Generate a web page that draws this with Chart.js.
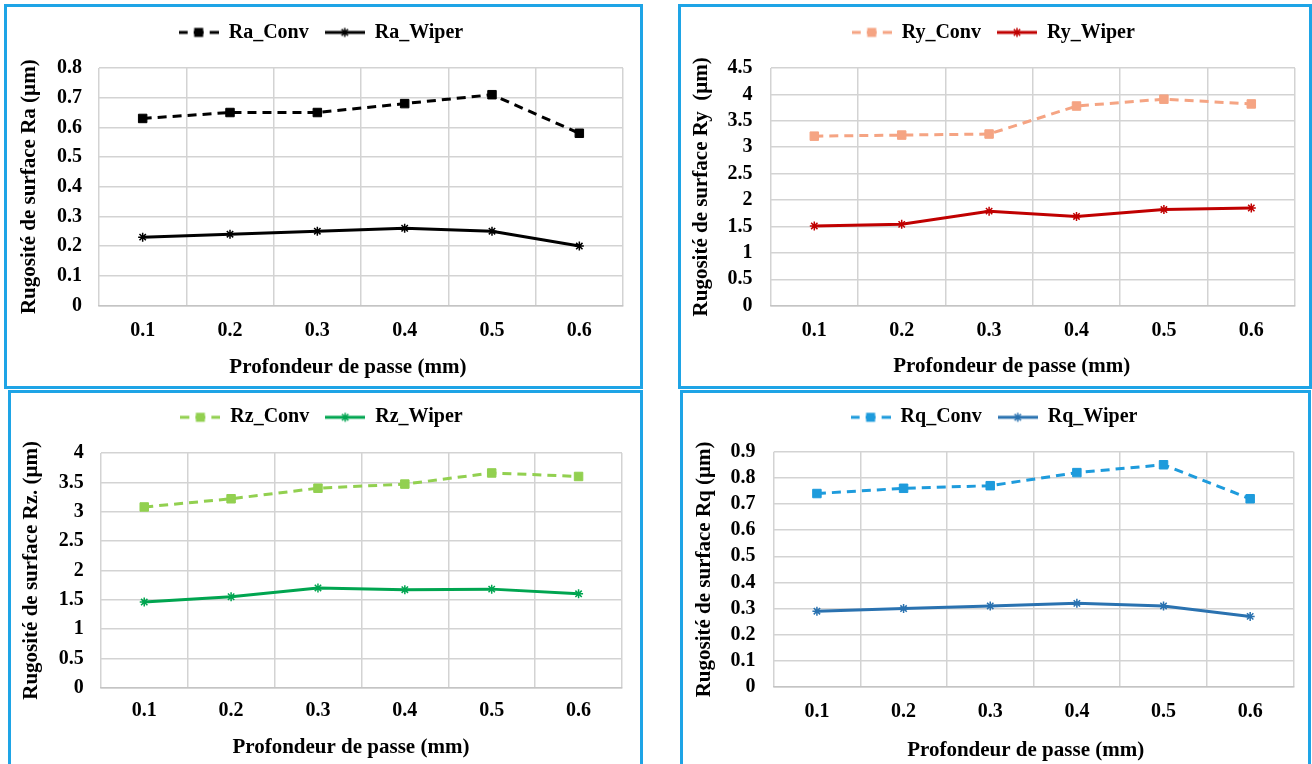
<!DOCTYPE html>
<html>
<head>
<meta charset="utf-8">
<script src="https://cdn.jsdelivr.net/npm/chart.js@4.4.1/dist/chart.umd.min.js"></script>
<style>
html,body{margin:0;padding:0;background:#fff;width:1312px;height:764px;overflow:hidden;position:relative}
canvas{position:absolute}
.frame{position:absolute;border:3px solid #1EA4E6;box-sizing:border-box;pointer-events:none;z-index:5}
</style>
</head>
<body>
<script>
// ---------- data ----------
const depthLabels = ['0.1', '0.2', '0.3', '0.4', '0.5', '0.6'];

const raConv  = [0.63, 0.65, 0.65, 0.68, 0.71, 0.58];
const raWiper = [0.23, 0.24, 0.25, 0.26, 0.25, 0.20];

const ryConv  = [3.21, 3.23, 3.25, 3.78, 3.91, 3.82];
const ryWiper = [1.51, 1.54, 1.79, 1.69, 1.82, 1.85];

const rzConv  = [3.08, 3.22, 3.40, 3.47, 3.66, 3.60];
const rzWiper = [1.46, 1.55, 1.70, 1.67, 1.68, 1.60];

const rqConv  = [0.74, 0.76, 0.77, 0.82, 0.85, 0.72];
const rqWiper = [0.29, 0.30, 0.31, 0.32, 0.31, 0.27];

const raTicks = [0, 0.1, 0.2, 0.3, 0.4, 0.5, 0.6, 0.7, 0.8];
const ryTicks = [0, 0.5, 1, 1.5, 2, 2.5, 3, 3.5, 4, 4.5];
const rzTicks = [0, 0.5, 1, 1.5, 2, 2.5, 3, 3.5, 4];
const rqTicks = [0, 0.1, 0.2, 0.3, 0.4, 0.5, 0.6, 0.7, 0.8, 0.9];

const xTitle = 'Profondeur de passe (mm)';

// ---------- styling / layout ----------
Chart.defaults.font.family = "'Liberation Serif', 'Times New Roman', serif";
Chart.defaults.font.weight = 'bold';
Chart.defaults.font.size = 20;
Chart.defaults.color = '#000';

const gridColor = '#d3d3d3';

function makeIcon(color, dashed, style) {
  const c = document.createElement('canvas');
  c.width = 40; c.height = 16;
  const g = c.getContext('2d');
  g.strokeStyle = color; g.fillStyle = color; g.lineWidth = 3;
  g.beginPath();
  if (dashed) {
    g.moveTo(0, 8); g.lineTo(9, 8);
    g.moveTo(15, 8); g.lineTo(25, 8);
    g.moveTo(31, 8); g.lineTo(40, 8);
  } else {
    g.moveTo(0, 8); g.lineTo(40, 8);
  }
  g.stroke();
  if (style === 'rect') {
    g.fillRect(15.5, 3.5, 9, 9);
  } else {
    g.lineWidth = 1.5;
    const r = 4.5;
    g.beginPath();
    g.moveTo(20 - r, 8); g.lineTo(20 + r, 8);
    g.moveTo(20, 8 - r); g.lineTo(20, 8 + r);
    const d = r * Math.SQRT1_2;
    g.moveTo(20 - d, 8 - d); g.lineTo(20 + d, 8 + d);
    g.moveTo(20 - d, 8 + d); g.lineTo(20 + d, 8 - d);
    g.stroke();
  }
  return c;
}

const panels = [
  { canvas: [5, 5, 637, 383], frame: [4, 4, 639, 385],
    pad: {left: 13.9, right: 19, top: 1.4, bottom: 7.4}, yWidth: 80.1, xHeight: 75.2, spacer: 15.6,
    yTickPad: 17, xTickPad: 13.6, xShift: 5,
    names: ['Ra_Conv', 'Ra_Wiper'], conv: raConv, wiper: raWiper, ticks: raTicks,
    colors: ['#000000', '#000000'], yTitle: 'Rugosité de surface Ra (µm)' },
  { canvas: [679, 5, 632, 383], frame: [678, 4, 634, 385],
    pad: {left: 12.5, right: 16, top: 1.4, bottom: 9.2}, yWidth: 79.1, xHeight: 73.1, spacer: 15.6,
    yTickPad: 18, xTickPad: 13.3, xShift: 8,
    names: ['Ry_Conv', 'Ry_Wiper'], conv: ryConv, wiper: ryWiper, ticks: ryTicks,
    colors: ['#F5A483', '#C00000'], yTitle: 'Rugosité de surface Ry  (µm)' },
  { canvas: [9, 391, 633, 373], frame: [8, 390, 635, 380],
    pad: {left: 12, right: 20, top: 0.3, bottom: 3.7}, yWidth: 79.8, xHeight: 72.6, spacer: 15.7,
    yTickPad: 17, xTickPad: 11.3, xShift: 4,
    names: ['Rz_Conv', 'Rz_Wiper'], conv: rzConv, wiper: rzWiper, ticks: rzTicks,
    colors: ['#92D050', '#00A550'], yTitle: 'Rugosité de surface Rz. (µm)' },
  { canvas: [681, 391, 629, 373], frame: [680, 390, 631, 380],
    pad: {left: 13.5, right: 16.5, top: 0.3, bottom: 0.7}, yWidth: 79.1, xHeight: 76.3, spacer: 14.4,
    yTickPad: 18, xTickPad: 12.7, xShift: 3,
    names: ['Rq_Conv', 'Rq_Wiper'], conv: rqConv, wiper: rqWiper, ticks: rqTicks,
    colors: ['#1E9BDC', '#2A72B0'], yTitle: 'Rugosité de surface Rq (µm)' }
];

function buildChart(p) {
  const cv = document.createElement('canvas');
  cv.width = p.canvas[2]; cv.height = p.canvas[3];
  cv.style.left = p.canvas[0] + 'px'; cv.style.top = p.canvas[1] + 'px';
  cv.style.width = p.canvas[2] + 'px'; cv.style.height = p.canvas[3] + 'px';
  document.body.appendChild(cv);

  const fr = document.createElement('div');
  fr.className = 'frame';
  fr.style.left = p.frame[0] + 'px'; fr.style.top = p.frame[1] + 'px';
  fr.style.width = p.frame[2] + 'px'; fr.style.height = p.frame[3] + 'px';
  document.body.appendChild(fr);

  const icons = [makeIcon(p.colors[0], true, 'rect'), makeIcon(p.colors[1], false, 'star')];

  new Chart(cv, {
    type: 'line',
    data: {
      labels: depthLabels,
      datasets: [
        { label: p.names[0], data: p.conv, borderColor: p.colors[0], backgroundColor: p.colors[0],
          borderWidth: 3, borderDash: [9, 6], tension: 0, fill: false,
          pointStyle: 'rect', pointRadius: 6, pointBorderWidth: 1,
          pointBackgroundColor: p.colors[0], pointBorderColor: p.colors[0] },
        { label: p.names[1], data: p.wiper, borderColor: p.colors[1], backgroundColor: p.colors[1],
          borderWidth: 3, tension: 0, fill: false,
          pointStyle: 'star', pointRadius: 4.5, pointBorderWidth: 1.5,
          pointBackgroundColor: p.colors[1], pointBorderColor: p.colors[1] }
      ]
    },
    options: {
      responsive: false,
      animation: false,
      devicePixelRatio: 1,
      layout: { padding: p.pad },
      plugins: {
        legend: {
          position: 'top',
          labels: {
            usePointStyle: true, pointStyleWidth: 40, padding: 16,
            font: { size: 20, weight: 'bold' }, color: '#000',
            generateLabels: (chart) => chart.data.datasets.map((ds, i) => ({
              text: ds.label, pointStyle: icons[i], fillStyle: ds.borderColor,
              strokeStyle: ds.borderColor, lineWidth: 0, hidden: false,
              datasetIndex: i, fontColor: '#000'
            }))
          }
        },
        title: { display: true, text: '', position: 'top', weight: 500,
                 padding: { top: 0, bottom: p.spacer }, font: { size: 1, lineHeight: 0 } },
        tooltip: { enabled: false }
      },
      scales: {
        x: {
          type: 'category', offset: true,
          grid: { offset: true, color: gridColor, lineWidth: 1.5, drawTicks: false },
          border: { display: true, color: '#c4c4c4', width: 1.5 },
          ticks: { padding: p.xTickPad, font: { size: 20, weight: 'bold' }, color: '#000',
                   maxRotation: 0, autoSkip: false },
          title: { display: true, text: xTitle + ' '.repeat(p.xShift), color: '#000',
                   font: { size: 21, weight: 'bold' }, padding: 0 },
          afterFit: (s) => { s.height = p.xHeight; }
        },
        y: {
          min: 0, max: p.ticks[p.ticks.length - 1],
          grid: { color: gridColor, lineWidth: 1.5, drawTicks: false },
          border: { display: false },
          ticks: { padding: p.yTickPad, font: { size: 20, weight: 'bold' }, color: '#000',
                   autoSkip: false, callback: (v) => String(v) },
          afterBuildTicks: (s) => { s.ticks = p.ticks.map(v => ({ value: v })); },
          title: { display: true, text: p.yTitle, color: '#000',
                   font: { size: 21, weight: 'bold', lineHeight: 1 }, padding: 0 },
          afterFit: (s) => { s.width = p.yWidth; }
        }
      }
    }
  });
}

panels.forEach(buildChart);
</script>
</body>
</html>
